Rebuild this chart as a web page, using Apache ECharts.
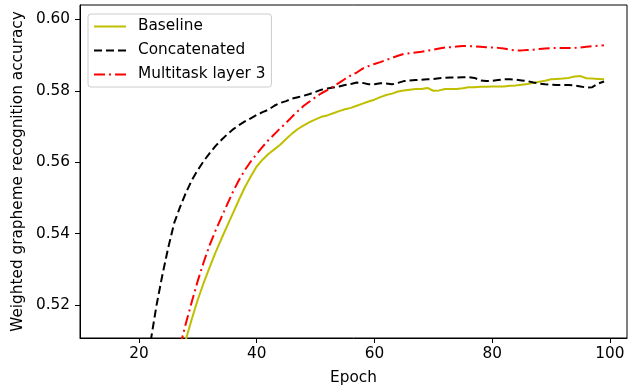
<!DOCTYPE html>
<html>
<head>
<meta charset="utf-8">
<script src="https://cdn.jsdelivr.net/npm/echarts@6/dist/echarts.min.js"></script>
<style>
html,body{margin:0;padding:0;background:#fff;}
#c{width:633px;height:391px;}
</style>
</head>
<body>
<div id="c"></div>
<script>
var seriesNames = ['Baseline', 'Concatenated', 'Multitask layer 3'];
var xTicks = [20, 40, 60, 80, 100];
var yTicks = [0.52, 0.54, 0.56, 0.58, 0.60];
var epochs = [22,23,24,25,26,27,28,29,30,31,32,33,34,35,36,37,38,39,40,41,42,43,44,45,46,47,48,49,50,51,52,53,54,55,56,57,58,59,60,61,62,63,64,65,66,67,68,69,70,71,72,73,74,75,76,77,78,79,80,81,82,83,84,85,86,87,88,89,90,91,92,93,94,95,96,97,98,99];
var baseline = [null,null,null,null,null,null,
  0.5105,0.5162,0.5215,0.5262,0.5305,0.5347,0.5385,0.5422,0.5458,0.5495,0.5530,0.5560,0.5588,0.5607,0.5623,0.5636,0.5649,0.5665,0.5680,0.5693,0.5703,0.5712,0.5720,0.5727,
  0.5731,0.5737,0.5743,0.5748,0.5752,0.5758,0.5764,0.5770,0.5775,0.5782,0.5788,0.5792,0.5798,0.5801,0.5803,0.5805,0.5805,0.5808,0.5800,0.5801,
  0.5805,0.5805,0.5805,0.5807,0.5810,0.5810,0.5811,0.5811,0.5812,0.5812,0.5812,0.5814,0.5815,0.5817,0.5819,0.5822,0.5825,0.5828,0.5832,0.5833,
  0.5834,0.5836,0.5840,0.5841,0.5835,0.5834,0.5833,0.5832];
var concatenated = [0.5099,0.5200,0.5285,0.5362,0.5430,0.5475,0.5515,0.5550,0.5578,0.5603,0.5625,0.5645,0.5662,0.5678,0.5692,0.5704,0.5714,0.5723,0.5732,0.5740,
  0.5747,0.5758,0.5766,0.5771,0.5778,0.5782,0.5786,0.5791,0.5797,0.5803,0.5806,0.5809,0.5812,0.5816,0.5819,0.5823,0.5822,0.5818,0.5818,0.5821,
  0.5820,0.5818,0.5822,0.5827,0.5829,0.5830,0.5831,0.5832,0.5833,0.5835,0.5836,0.5837,0.5837,0.5838,0.5838,0.5836,0.5829,0.5827,0.5828,0.5830,
  0.5832,0.5832,0.5831,0.5829,0.5827,0.5823,0.5820,0.5818,0.5817,0.5816,0.5816,0.5816,0.5815,0.5812,0.5809,0.5810,0.5820,0.5826];
var multitask = [null,null,null,null,null,
  0.5085,0.5150,0.5210,0.5268,0.5320,0.5367,0.5408,0.5445,0.5482,0.5518,0.5550,0.5578,0.5602,0.5623,0.5643,0.5662,0.5678,0.5695,0.5710,0.5727,
  0.5743,0.5758,0.5770,0.5782,0.5793,0.5802,0.5812,0.5822,0.5833,0.5843,0.5851,0.5862,0.5869,0.5875,0.5880,0.5886,0.5892,0.5898,0.5903,0.5905,
  0.5907,0.5909,0.5912,0.5915,0.5918,0.5921,0.5922,0.5924,0.5925,0.5925,0.5924,0.5923,0.5922,0.5921,0.5920,0.5918,0.5915,0.5913,0.5913,0.5914,
  0.5915,0.5917,0.5918,0.5919,0.5920,0.5920,0.5920,0.5920,0.5921,0.5923,0.5925,0.5926,0.5927];

function pairs(vals){ return epochs.map(function(e,i){ return [e, vals[i]]; }); }

var FONT = 'DejaVu Sans';
var FS = 15.3;
var chart = echarts.init(document.getElementById('c'), null, {renderer:'canvas'});
chart.setOption({
  animation: false,
  backgroundColor: '#fff',
  textStyle: {fontFamily: FONT, fontSize: FS},
  grid: {left: 80, right: 6, top: 5, bottom: 49, show: true, borderColor: '#000', borderWidth: 1, backgroundColor: 'transparent'},
  legend: {
    orient: 'vertical', left: 88, top: 14,
    data: seriesNames,
    itemWidth: 32, itemHeight: 14, itemGap: 9,
    padding: [5, 6, 5, 5],
    backgroundColor: 'rgba(255,255,255,0.8)',
    borderColor: '#cccccc', borderWidth: 1, borderRadius: 3,
    itemStyle: {opacity: 0},
    textStyle: {fontFamily: FONT, fontSize: FS, color: '#000', padding: [0,0,0,7]}
  },
  xAxis: {
    type: 'value', min: 10, max: 102.9,
    name: 'Epoch', nameLocation: 'middle', nameGap: 33,
    nameTextStyle: {fontFamily: FONT, fontSize: FS, color: '#000'},
    axisLine: {show: true, onZero: false, lineStyle: {color: '#000', width: 1}},
    axisTick: {show: true, length: 5, lineStyle: {color: '#000'}, customValues: xTicks},
    axisLabel: {fontFamily: FONT, fontSize: FS, color: '#000', margin: 9, customValues: xTicks},
    splitLine: {show: false}
  },
  yAxis: {
    type: 'value', min: 0.5108, max: 0.604,
    name: 'Weighted grapheme recognition accuracy', nameLocation: 'middle', nameGap: 50,
    nameTextStyle: {fontFamily: FONT, fontSize: FS, color: '#000'},
    axisLine: {show: true, onZero: false, lineStyle: {color: '#000', width: 1}},
    axisTick: {show: true, length: 5, lineStyle: {color: '#000'}, customValues: yTicks},
    axisLabel: {fontFamily: FONT, fontSize: FS, color: '#000', margin: 10, customValues: yTicks,
      formatter: function(v){ return v.toFixed(2); }},
    splitLine: {show: false}
  },
  series: [
    {name: seriesNames[0], type: 'line', data: pairs(baseline), showSymbol: false, symbol: 'none', clip: true,
     lineStyle: {color: '#bfbf00', width: 2}, itemStyle: {color: '#bfbf00'}, z: 3},
    {name: seriesNames[1], type: 'line', data: pairs(concatenated), showSymbol: false, symbol: 'none', clip: true,
     lineStyle: {color: '#000', width: 2, type: [8, 4]}, itemStyle: {color: '#000'}, z: 4},
    {name: seriesNames[2], type: 'line', data: pairs(multitask), showSymbol: false, symbol: 'none', clip: true,
     lineStyle: {color: '#ff0000', width: 2, type: [11, 4, 2, 4]}, itemStyle: {color: '#ff0000'}, z: 5}
  ]
});
</script>
</body>
</html>
